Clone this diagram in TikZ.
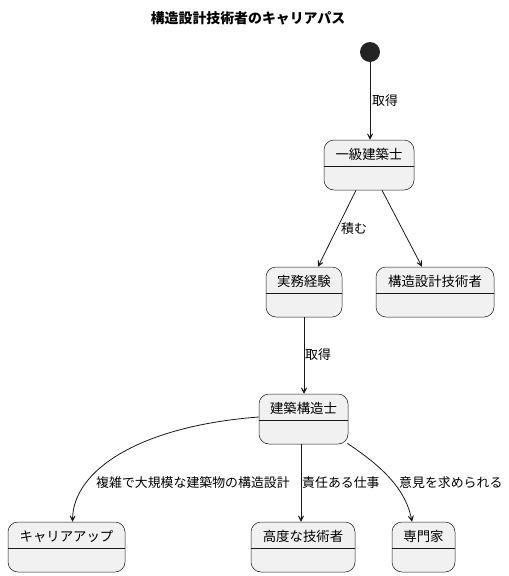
\documentclass[tikz,border=0pt]{standalone}
\usepackage{fontspec}
\setmainfont{Noto Sans CJK JP}
\usetikzlibrary{arrows.meta}
\definecolor{boxfill}{HTML}{F1F1F1}
\definecolor{linec}{HTML}{181818}
\tikzset{
  st/.style={draw=linec, line width=0.5pt, fill=boxfill, rounded corners=10pt, minimum height=50pt, inner sep=0pt},
  stname/.style={font=\fontsize{13.4}{15}\selectfont, inner sep=0pt, anchor=center},
  lbl/.style={font=\fontsize{12.9}{14}\selectfont, inner sep=0pt, anchor=west},
  arr/.style={draw=linec, line width=0.8pt, -{Stealth[length=10pt,width=10pt,inset=7pt]}},
}
\newcommand{\mkstate}[5]{%
  \node[st, minimum width=#4pt] (#1) at (#2,#3) {};
  \draw[linec, line width=0.5pt] ([yshift=-26pt]#1.north west) -- ([yshift=-26pt]#1.north east);
  \node[stname] (#1t) at ([yshift=-14.5pt]#1.north) {#5};
}
\begin{document}
\begin{tikzpicture}[x=1pt,y=-1pt]
\useasboundingbox (0,0) rectangle (509,576);
\node[font=\bfseries\fontsize{13.9}{16}\selectfont, inner sep=0pt] (title) at (248,18) {構造設計技術者のキャリアパス};
\node[circle, fill=linec!95, minimum size=20pt, inner sep=0pt] (start) at (370,52) {};
\mkstate{ikkyu}{369}{165}{90}{一級建築士}
\mkstate{jitsumu}{304}{292}{76}{実務経験}
\mkstate{kozo}{435}{292}{118}{構造設計技術者}
\mkstate{kenchiku}{303.5}{419}{89}{建築構造士}
\mkstate{career}{66.5}{547}{117}{キャリアアップ}
\mkstate{kodo}{303}{547}{104}{高度な技術者}
\mkstate{senmon}{423.5}{547}{63}{専門家}

\draw[arr] (start.south) -- (start.south |- ikkyu.north);
\draw[arr] ([xshift=-13pt]ikkyu.south) -- ([xshift=14pt]jitsumu.north);
\draw[arr] ([xshift=13pt]ikkyu.south) -- ([xshift=-13pt]kozo.north);
\draw[arr] (jitsumu.south) -- (jitsumu.south |- kenchiku.north);
\draw[arr] ([yshift=2pt]kenchiku.west) .. controls (140,426) and (73,470) .. ([xshift=6pt]career.north);
\draw[arr] ([xshift=-2.5pt]kenchiku.south) -- ([xshift=-2pt]kodo.north);
\draw[arr] ([xshift=-1pt,yshift=1pt]kenchiku.south east) .. controls (375,462) and (405,485) .. ([xshift=-11.5pt]senmon.north);

\node[lbl] (l1) at (372,101) {取得};
\node[lbl] (l2) at (341,229) {積む};
\node[lbl] (l3) at (305,355) {取得};
\node[lbl] (l4) at (96,483) {複雑で大規模な建築物の構造設計};
\node[lbl] (l5) at (302,483) {責任ある仕事};
\node[lbl] (l6) at (399,483) {意見を求められる};
\end{tikzpicture}
\end{document}
